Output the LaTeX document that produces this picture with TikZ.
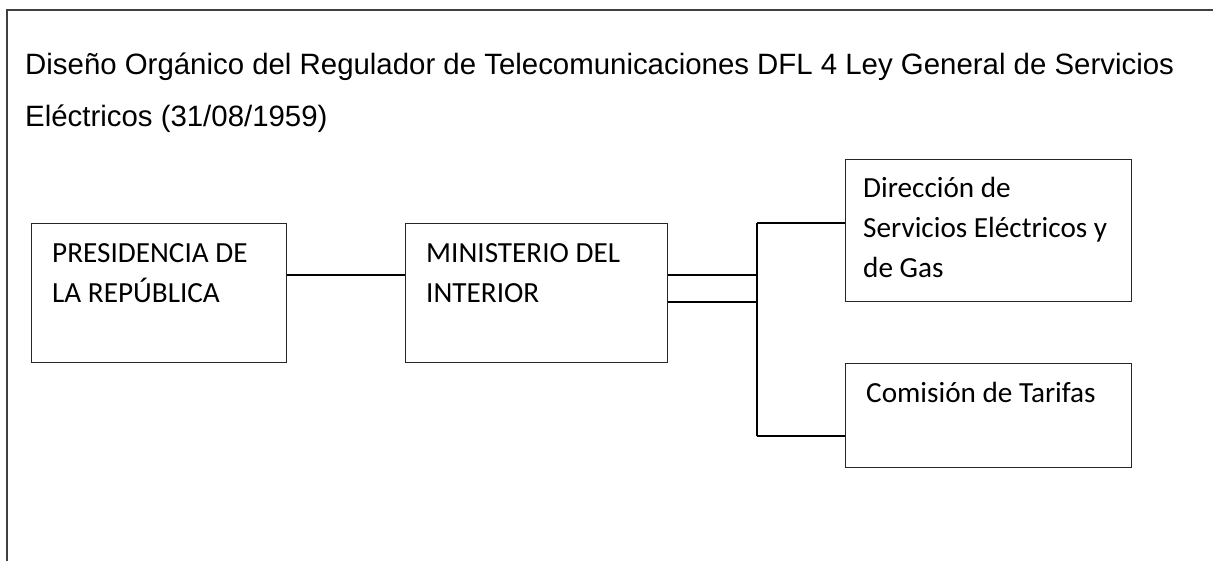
\documentclass[tikz,border=0pt]{standalone}
\usepackage{fontspec}
\setmainfont{Liberation Sans}
\newfontfamily\boxfont{Carlito}
\begin{document}
\begin{tikzpicture}[x=1pt,y=-1pt,
  frame/.style={draw=black!75,line width=1.3pt},
  orgbox/.style={draw=black!85,line width=1pt,rectangle,inner sep=0pt,anchor=north west},
  conn/.style={draw=black,line width=1.3pt},
  ttl/.style={font=\fontsize{29.4}{35}\selectfont,anchor=base west,inner sep=0pt},
  lbl/.style={font=\boxfont\fontsize{29.2}{35}\selectfont,anchor=base west,inner sep=0pt}]
\useasboundingbox (0,0) rectangle (1213,561);
% outer frame
\coordinate (fbl) at (7,561);
\coordinate (ftl) at (7,10);
\coordinate (ftr) at (1213,10);
\draw[frame] (fbl) -- (ftl) -- (ftr);
% title
\node[ttl] (t1) at (25,75) {Diseño Orgánico del Regulador de Telecomunicaciones DFL 4 Ley General de Servicios};
\node[ttl] (t2) at (25,127) {Eléctricos (31/08/1959)};
% boxes
\node[orgbox,minimum width=255pt,minimum height=139pt] (pres) at (31,223) {};
\node[orgbox,minimum width=262pt,minimum height=139pt] (mini) at (405,223) {};
\node[orgbox,minimum width=286pt,minimum height=142pt] (dir) at (845,159) {};
\node[orgbox,minimum width=286pt,minimum height=104pt] (com) at (845,363) {};
% labels
\node[lbl] (p1) at (52,263) {PRESIDENCIA DE};
\node[lbl] (p2) at (52,303) {LA REPÚBLICA};
\node[lbl] (m1) at (426,263) {MINISTERIO DEL};
\node[lbl] (m2) at (426,303) {INTERIOR};
\node[lbl] (d1) at (863,198) {Dirección de};
\node[lbl] (d2) at (863,238) {Servicios Eléctricos y};
\node[lbl] (d3) at (863,278) {de Gas};
\node[lbl] (c1) at (866,402) {Comisión de Tarifas};
% connectors
\coordinate (ya) at (0,275);
\coordinate (yb) at (0,302);
\coordinate (busT) at (757,223);
\coordinate (busB) at (757,436);
\draw[conn] (pres.east |- ya) -- (mini.west |- ya);
\draw[conn] (mini.east |- ya) -- (busT |- ya);
\draw[conn] (mini.east |- yb) -- (busT |- yb);
\draw[conn] (busT) -- (busB);
\draw[conn] (busT) -- (dir.west |- busT);
\draw[conn] (busB) -- (com.west |- busB);
\end{tikzpicture}
\end{document}
